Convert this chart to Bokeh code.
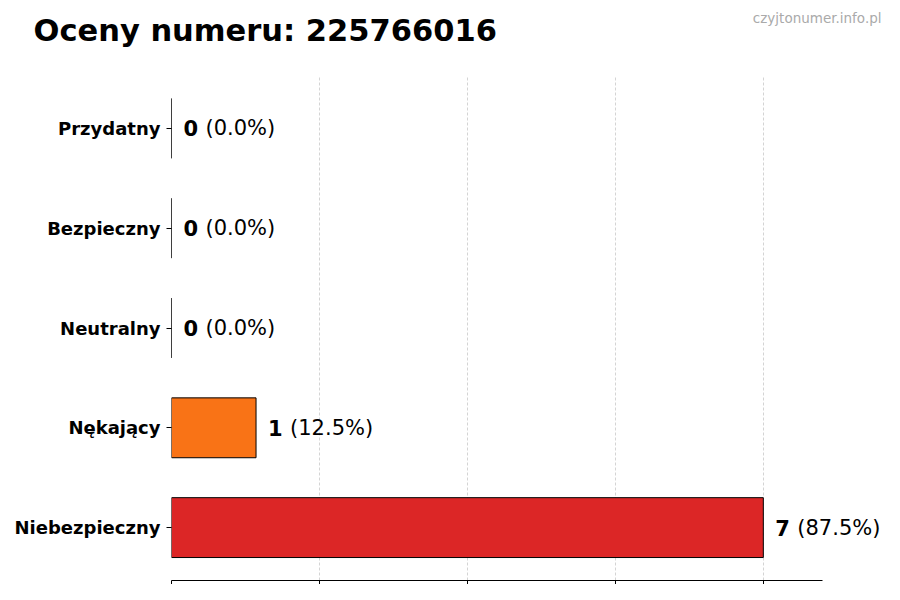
from bokeh.plotting import figure
from bokeh.models import ColumnDataSource, FixedTicker, Range1d, Title
from bokeh.core.properties import value
from bokeh.embed import file_html
from bokeh.resources import INLINE

# Data (bottom to top)
categories = ["Niebezpieczny", "Nękający", "Neutralny", "Bezpieczny", "Przydatny"]
counts = [7, 1, 0, 0, 0]
colors = ["#DC2626", "#F97316", "#9CA3AF", "#22C55E", "#3B82F6"]
x_ticks = [0, 1.75, 3.5, 5.25, 7]
title_text = "Oceny numeru: 225766016"
watermark = "czyjtonumer.info.pl"

total = sum(counts)
pos = list(range(len(categories)))
num_labels = [str(c) for c in counts]
pct_labels = ["(%.1f%%)" % (100.0 * c / total) for c in counts]

src = ColumnDataSource(dict(y=pos, right=counts, color=colors,
                            num=num_labels, pct=pct_labels))

FONT = "DejaVu Sans"
axis_end = max(counts) * 1.1          # end of the drawn x axis
view_end = axis_end * 713.0 / 651.0   # room on the right for the value labels

p = figure(width=884, height=584, output_backend="svg", toolbar_location=None,
           x_range=Range1d(0, view_end), y_range=Range1d(-0.53, len(categories) - 0.47),
           min_border_left=171, min_border_right=0, min_border_top=75, min_border_bottom=4)
p.outline_line_color = None
p.background_fill_color = "white"
p.border_fill_color = "white"

p.hbar(y="y", left=0, right="right", height=0.6, fill_color="color",
       line_color="black", line_width=1, source=src)

p.text(x="right", y="y", text="num", x_offset=12, source=src,
       text_font=value(FONT), text_font_style="bold", text_font_size="21px",
       text_align="left", text_baseline="middle", text_color="black")
p.text(x="right", y="y", text="pct", x_offset=34, source=src,
       text_font=value(FONT), text_font_size="21px",
       text_align="left", text_baseline="middle", text_color="black")

# axes
p.xaxis.ticker = FixedTicker(ticks=x_ticks)
p.xaxis.bounds = (0, axis_end)
p.xaxis.major_label_text_font_size = "0px"
p.xaxis.major_label_standoff = 0
p.xaxis.axis_line_color = "black"
p.xaxis.major_tick_line_color = "black"
p.xaxis.major_tick_out = 4
p.xaxis.major_tick_in = 0
p.xaxis.minor_tick_line_color = None

p.yaxis.ticker = FixedTicker(ticks=pos)
p.yaxis.major_label_overrides = {i: c for i, c in enumerate(categories)}
p.yaxis.axis_line_color = None
p.yaxis.major_tick_line_color = "black"
p.yaxis.major_tick_out = 5
p.yaxis.major_tick_in = 0
p.yaxis.minor_tick_line_color = None
p.yaxis.major_label_standoff = 6
p.yaxis.major_label_text_font = FONT
p.yaxis.major_label_text_font_style = "bold"
p.yaxis.major_label_text_font_size = "18px"
p.yaxis.major_label_text_color = "black"

p.xgrid.grid_line_color = "#d4d4d4"
p.xgrid.grid_line_dash = "3 2"
p.xgrid.grid_line_width = 1
p.ygrid.grid_line_color = None

# header: spacer (closest to the plot), main title, watermark
p.add_layout(Title(text=" ", text_font=FONT, text_font_size="10px", standoff=23.6), "above")
p.add_layout(Title(text=title_text, align="left", offset=-138, standoff=-19.4,
                   text_font=FONT, text_font_style="bold", text_font_size="30.5px",
                   text_color="black"), "above")
p.add_layout(Title(text=watermark, align="right", offset=3, standoff=-10,
                   text_font=FONT, text_font_style="normal", text_font_size="13.5px",
                   text_color="#aaaaaa"), "above")

open("out.html", "w").write(file_html(p, INLINE))
